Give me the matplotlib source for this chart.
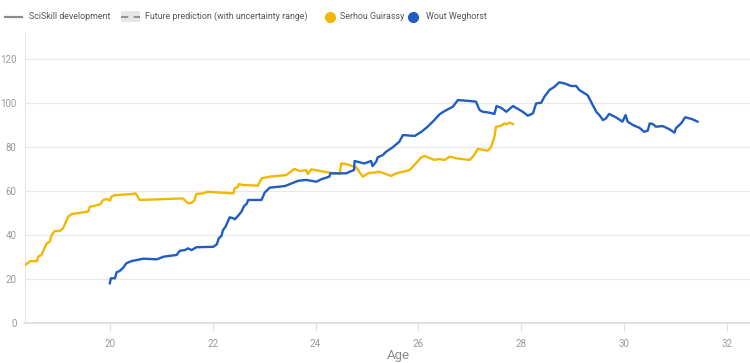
import matplotlib
matplotlib.use("Agg")
import matplotlib.pyplot as plt
from matplotlib.lines import Line2D
from matplotlib.patches import Rectangle

plt.rcParams['font.family'] = ['Roboto', 'DejaVu Sans']

guirassy_age = [18.35, 18.40, 18.45, 18.58, 18.61, 18.67, 18.77, 18.83, 18.87, 18.93, 19.03, 19.09,
                19.19, 19.26, 19.58, 19.61, 19.71, 19.81, 19.87, 19.94, 20.00, 20.03, 20.10, 20.45,
                20.50, 20.58, 21.42, 21.52, 21.59, 21.65, 21.68, 21.81, 21.91, 22.40, 22.43, 22.49,
                22.51, 22.59, 22.88, 22.95, 23.11, 23.43, 23.59, 23.69, 23.82, 23.85, 23.92, 24.27,
                24.47, 24.50, 24.60, 24.79, 24.92, 25.02, 25.25, 25.47, 25.57, 25.83, 25.89, 26.06,
                26.12, 26.31, 26.41, 26.51, 26.61, 26.74, 27.00, 27.06, 27.16, 27.35, 27.41, 27.48,
                27.51, 27.61, 27.67, 27.71, 27.77, 27.84]
guirassy_val = [26.2, 27.0, 28.0, 28.0, 30.0, 30.8, 36.0, 36.8, 39.9, 41.7, 41.7, 42.9,
                48.2, 49.4, 50.5, 52.7, 53.2, 53.8, 55.8, 56.2, 55.5, 57.3, 58.0, 58.5,
                58.8, 55.8, 56.5, 54.3, 54.5, 55.8, 58.5, 58.8, 59.5, 58.8, 61.1, 61.8,
                63.0, 62.6, 62.3, 65.6, 66.4, 67.1, 69.9, 69.0, 69.4, 67.6, 69.7, 68.2,
                67.6, 72.4, 72.1, 70.6, 66.4, 67.9, 68.6, 66.7, 67.9, 69.4, 70.9, 75.2,
                75.8, 74.0, 74.4, 74.0, 75.5, 74.7, 74.0, 75.5, 79.0, 78.2, 79.7, 84.5,
                89.1, 89.5, 90.6, 90.2, 90.9, 90.3]

weghorst_age = [20.00, 20.02, 20.10, 20.13, 20.19, 20.26, 20.32, 20.42, 20.65, 20.91, 20.97, 21.04,
                21.30, 21.36, 21.46, 21.52, 21.59, 21.68, 22.01, 22.08, 22.12, 22.17, 22.20, 22.25,
                22.33, 22.40, 22.43, 22.49, 22.56, 22.61, 22.66, 22.69, 22.95, 23.01, 23.11, 23.40,
                23.50, 23.66, 23.82, 24.02, 24.11, 24.27, 24.29, 24.60, 24.66, 24.75, 24.76, 24.95,
                25.08, 25.11, 25.18, 25.21, 25.31, 25.37, 25.50, 25.63, 25.70, 25.93, 26.06, 26.18,
                26.31, 26.41, 26.51, 26.67, 26.77, 26.99, 27.12, 27.19, 27.25, 27.38, 27.48, 27.52,
                27.61, 27.71, 27.84, 28.03, 28.13, 28.23, 28.29, 28.39, 28.45, 28.55, 28.65, 28.74,
                28.84, 28.97, 29.07, 29.13, 29.23, 29.29, 29.39, 29.46, 29.52, 29.59, 29.65, 29.71,
                29.84, 29.97, 30.03, 30.07, 30.17, 30.30, 30.39, 30.46, 30.50, 30.56, 30.62, 30.75,
                30.88, 30.98, 31.01, 31.11, 31.19, 31.27, 31.33, 31.43]
weghorst_val = [17.9, 20.2, 20.2, 22.9, 23.5, 25.0, 27.0, 28.0, 29.1, 28.8, 29.3, 30.0,
                30.8, 32.7, 33.0, 33.8, 33.0, 34.3, 34.5, 35.6, 38.4, 39.4, 42.1, 43.6,
                47.9, 47.5, 47.0, 48.5, 50.5, 53.0, 54.0, 55.8, 55.8, 59.1, 61.4, 62.1,
                63.0, 64.5, 64.9, 64.1, 65.2, 66.4, 67.9, 67.9, 68.6, 69.4, 73.5, 72.4,
                73.5, 71.2, 73.2, 75.2, 76.2, 77.7, 79.7, 82.3, 85.3, 84.9, 86.8, 89.1,
                92.1, 94.7, 96.2, 98.2, 101.2, 100.8, 100.5, 96.7, 95.9, 95.5, 94.9, 98.5,
                97.7, 95.9, 98.5, 95.9, 94.1, 95.2, 99.7, 100.0, 102.7, 105.8, 107.3, 109.3,
                108.8, 107.6, 107.6, 105.8, 104.3, 103.5, 99.0, 95.9, 94.4, 92.1, 92.9, 94.9,
                93.4, 91.4, 94.4, 91.4, 89.9, 88.6, 86.8, 87.3, 90.6, 90.3, 89.1, 89.4,
                88.0, 86.4, 88.4, 90.6, 93.4, 92.9, 92.5, 91.4]

x_ticks = [20, 22, 24, 26, 28, 30, 32]
y_ticks = [0, 20, 40, 60, 80, 100, 120]

YELLOW = '#F2B705'
BLUE = '#1F5DC2'

fig = plt.figure(figsize=(7.5, 3.63), dpi=100)
ax = fig.add_axes([25/750, 1 - 322.7/363, 1 - 25/750, (322.7 - 33)/363])

ax.plot(guirassy_age, guirassy_val, color=YELLOW, lw=1.7, solid_joinstyle='round', zorder=3)
ax.plot(weghorst_age, weghorst_val, color=BLUE, lw=1.7, solid_joinstyle='round', zorder=3)

ax.set_xlim(18.35, 32.45)
ax.set_ylim(0, 131.7)
ax.set_xticks(x_ticks)
ax.set_yticks(y_ticks)
ax.grid(axis='y', color='#e8e8e8', lw=0.9)
ax.set_axisbelow(True)
for s in ['top', 'right']:
    ax.spines[s].set_visible(False)
ax.spines['left'].set_color('#e6e6e6')
ax.spines['left'].set_linewidth(0.8)
ax.spines['bottom'].set_color('#dcdcdc')
ax.spines['bottom'].set_linewidth(1.2)
ax.tick_params(axis='y', length=0, labelsize=7, labelcolor='#9a9a9a', pad=6)
ax.tick_params(axis='x', length=6, color='#e0e0e0', labelsize=7, labelcolor='#9a9a9a', pad=6)
ax.set_xlabel('Age', fontsize=9.5, color='#8a8a8a')
ax.xaxis.set_label_coords((398 - 25) / 725, (322.7 - 355) / (322.7 - 33))
ax.xaxis.label.set_va('center')

# legend drawn manually in figure pixel coordinates
def fx(px):
    return px / 750
def fy(py):
    return 1 - py / 363

ly = 16.5
LFS = 6.4
fig.add_artist(Line2D([fx(5), fx(22)], [fy(ly), fy(ly)], color='#8a8a8a', lw=1.6))
fig.text(fx(29), fy(ly), 'SciSkill development', fontsize=LFS, color='#555555', va='center', ha='left')
fig.add_artist(Rectangle((fx(121), fy(22)), fx(19), 11/363, color='#e6e6e6', lw=0))
fig.add_artist(Line2D([fx(121), fx(140)], [fy(ly), fy(ly)], color='#8a8a8a', lw=1.3, ls=(0, (4, 3))))
fig.text(fx(145), fy(ly), 'Future prediction (with uncertainty range)', fontsize=LFS, color='#555555',
         va='center', ha='left')
fig.add_artist(Line2D([fx(330)], [fy(ly)], marker='o', ms=7, color=YELLOW, lw=0))
fig.text(fx(340), fy(ly), 'Serhou Guirassy', fontsize=LFS, color='#555555', va='center', ha='left')
fig.add_artist(Line2D([fx(413)], [fy(ly)], marker='o', ms=7, color=BLUE, lw=0))
fig.text(fx(426), fy(ly), 'Wout Weghorst', fontsize=LFS, color='#555555', va='center', ha='left')

fig.savefig('out.png', dpi=100)
